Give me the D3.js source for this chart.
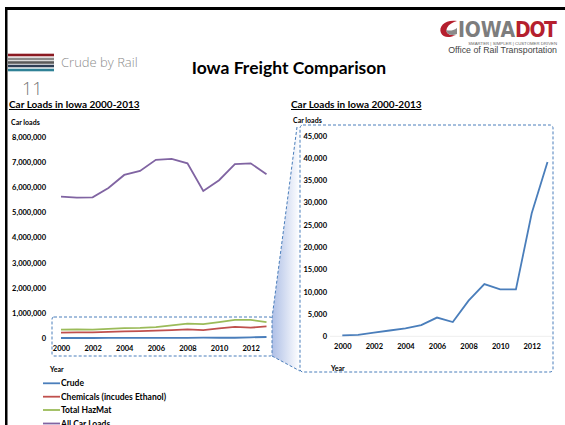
<!DOCTYPE html>
<html>
<head>
<meta charset="utf-8">
<script src="https://cdn.jsdelivr.net/npm/d3@7"></script>
<style>
  body { margin: 0; background: #fff; }
  svg { display: block; }
  .tick text { font-family: Lato, "Open Sans", sans-serif; font-weight: bold; font-size: 7.5px; fill: #000; }
  .ttl { font-family: Lato, sans-serif; font-weight: bold; font-size: 10px; text-decoration: underline; }
  .lbl { font-family: Lato, sans-serif; font-weight: bold; font-size: 7px; }
  .leg { font-family: Lato, sans-serif; font-weight: bold; font-size: 8.5px; }
</style>
</head>
<body>
<svg width="565" height="425"></svg>
<script>
var years     = [2000, 2001, 2002, 2003, 2004, 2005, 2006, 2007, 2008, 2009, 2010, 2011, 2012, 2013];
var crude     = [200, 300, 800, 1300, 1800, 2500, 4200, 3200, 8000, 11700, 10500, 10500, 27600, 39100];
var chemicals = [210000, 220000, 220000, 240000, 260000, 270000, 290000, 310000, 340000, 310000, 380000, 440000, 410000, 460000];
var hazmat    = [330000, 340000, 330000, 360000, 390000, 400000, 430000, 500000, 570000, 550000, 630000, 720000, 720000, 630000];
var allLoads  = [5630000, 5590000, 5600000, 5970000, 6490000, 6650000, 7090000, 7130000, 6950000, 5850000, 6280000, 6920000, 6950000, 6520000];
var xTicks     = [2000, 2002, 2004, 2006, 2008, 2010, 2012];
var leftTicks  = [0, 1000000, 2000000, 3000000, 4000000, 5000000, 6000000, 7000000, 8000000];
var rightTicks = [0, 5000, 10000, 15000, 20000, 25000, 30000, 35000, 40000, 45000];
var seriesNames = ["Crude", "Chemicals (incudes Ethanol)", "Total HazMat", "All Car Loads"];
var seriesColors = ["#4a7ebb", "#c0504d", "#9bbb59", "#8064a2"];

var svg = d3.select("svg");
var fmt = d3.format(",");

// --- slide frame
svg.append("rect").attr("x", 5).attr("y", 7).attr("width", 560).attr("height", 3).attr("fill", "#000");
svg.append("rect").attr("x", 5).attr("y", 7).attr("width", 2.5).attr("height", 418).attr("fill", "#000");

// --- stripes + section label
var stripes = [["#8b1a22", 55], ["#8a8a8a", 59], ["#5a5a5a", 62.5], ["#2e3e55", 66], ["#2f8196", 70]];
stripes.forEach(function (s) {
  svg.append("rect").attr("x", 8).attr("y", s[1] - 1.3).attr("width", 46).attr("height", 2.6).attr("fill", s[0]);
});
svg.append("text").attr("x", 61).attr("y", 66.5)
  .style("font-family", "'Open Sans', sans-serif").style("font-weight", 300)
  .style("font-size", "13px").attr("fill", "#8c8c8c").text("Crude by Rail");
svg.append("text").attr("x", 22).attr("y", 94.5)
  .style("font-family", "'Open Sans', sans-serif").style("font-weight", 300)
  .style("font-size", "18px").attr("fill", "#777").text("11");

svg.append("text").attr("x", 289).attr("y", 74).attr("text-anchor", "middle")
  .style("font-family", "Lato, sans-serif").style("font-weight", "bold")
  .style("font-size", "17.5px").text("Iowa Freight Comparison");

// --- logo
var logo = svg.append("g");
logo.append("path").attr("d", "M457,21 C446,19 438,26 441,33 C443,38 450,38 456,35 C449,36 445,33 447,28 C449,24 453,22 457,21 Z").attr("fill", "#b51f2e");
logo.append("path").attr("d", "M446,30 C447,35 452,36 457,34 L457,28 C453,31 449,31 446,30 Z").attr("fill", "#8a8a8a");
logo.append("text").attr("x", 458).attr("y", 37)
  .style("font-family", "'DejaVu Sans Condensed', 'DejaVu Sans', sans-serif").style("font-weight", "bold")
  .style("font-size", "21px").attr("fill", "#7d7d7d").attr("textLength", 57).text("IOWA");
logo.append("text").attr("x", 515).attr("y", 37)
  .style("font-family", "'DejaVu Sans Condensed', 'DejaVu Sans', sans-serif").style("font-weight", "bold")
  .style("font-size", "21px").attr("fill", "#b51f2e").attr("textLength", 42).text("DOT");
logo.append("text").attr("x", 557).attr("y", 44.5).attr("text-anchor", "end")
  .style("font-family", "'Liberation Sans', sans-serif").style("font-size", "4.3px")
  .attr("fill", "#666").text("SMARTER | SIMPLER | CUSTOMER DRIVEN");
logo.append("text").attr("x", 557).attr("y", 53).attr("text-anchor", "end")
  .style("font-family", "'Liberation Sans', sans-serif").style("font-size", "8.8px")
  .attr("fill", "#444").text("Office of Rail Transportation");

// --- zoom connector (drawn first so charts sit above it)
var defs = svg.append("defs");
var grad = defs.append("linearGradient").attr("id", "wedge").attr("x1", "0").attr("x2", "1").attr("y1", "0").attr("y2", "0");
grad.append("stop").attr("offset", "0").attr("stop-color", "#aebfe6");
grad.append("stop").attr("offset", "1").attr("stop-color", "#ffffff");
svg.append("path").attr("d", "M297,127 L272,318 L272,356 L300,371 L300,127 Z").attr("fill", "url(#wedge)");
svg.append("path").attr("d", "M297,127 L272,318 M272,356 L300,371")
  .attr("fill", "none").attr("stroke", "#4a7ebb").attr("stroke-width", 1).attr("stroke-dasharray", "3,2");

// --- left chart
var xL = d3.scaleLinear().domain([2000, 2013]).range([61, 266.5]);
var yL = d3.scaleLinear().domain([0, 8000000]).range([338, 137]);

svg.append("text").attr("class", "ttl").attr("x", 9).attr("y", 108).text("Car Loads in Iowa 2000-2013");
svg.append("text").attr("class", "lbl").attr("x", 11).attr("y", 125).text("Car loads");
svg.append("text").attr("class", "lbl").attr("x", 50).attr("y", 372).text("Year");

svg.append("g").attr("transform", "translate(49,0)")
  .call(d3.axisLeft(yL).tickValues(leftTicks).tickFormat(fmt).tickSize(0).tickPadding(3))
  .call(function (g) { g.select(".domain").remove(); });
svg.append("g").attr("transform", "translate(0,338)")
  .call(d3.axisBottom(xL).tickValues(xTicks).tickFormat(d3.format("d")).tickSize(0).tickPadding(8))
  .call(function (g) { g.select(".domain").remove(); });

var lineL = d3.line().x(function (d, i) { return xL(years[i]); }).y(function (d) { return yL(d); });
[crude, chemicals, hazmat, allLoads].forEach(function (s, k) {
  svg.append("path").datum(s).attr("d", lineL).attr("fill", "none")
    .attr("stroke", seriesColors[k]).attr("stroke-width", 1.8);
});

svg.append("rect").attr("x", 52).attr("y", 317).attr("width", 220).attr("height", 39).attr("rx", 2)
  .attr("fill", "none").attr("stroke", "#4a7ebb").attr("stroke-width", 1).attr("stroke-dasharray", "3,2");

// legend (last entry runs off the bottom edge, as in the original slide)
var legY = [383.3, 396.7, 410, 423.5];
seriesNames.forEach(function (n, k) {
  svg.append("line").attr("x1", 43).attr("x2", 60).attr("y1", legY[k]).attr("y2", legY[k])
    .attr("stroke", seriesColors[k]).attr("stroke-width", 1.8);
  svg.append("text").attr("class", "leg").attr("x", 61).attr("y", legY[k] + 3).text(n);
});

// --- right chart
var xR = d3.scaleLinear().domain([2000, 2013]).range([342.3, 547.5]);
var yR = d3.scaleLinear().domain([0, 45000]).range([336.3, 135.6]);

svg.append("text").attr("class", "ttl").attr("x", 291).attr("y", 108).text("Car Loads in Iowa 2000-2013");
svg.append("text").attr("class", "lbl").attr("x", 293).attr("y", 123).text("Car loads");
svg.append("text").attr("class", "lbl").attr("x", 331).attr("y", 371).text("Year");

svg.append("line").attr("x1", 330).attr("x2", 552).attr("y1", yR(0)).attr("y2", yR(0))
  .attr("stroke", "#eeeeee").attr("stroke-width", 1);
svg.append("g").attr("transform", "translate(330,0)")
  .call(d3.axisLeft(yR).tickValues(rightTicks).tickFormat(fmt).tickSize(0).tickPadding(3))
  .call(function (g) { g.select(".domain").remove(); });
svg.append("g").attr("transform", "translate(0," + yR(0) + ")")
  .call(d3.axisBottom(xR).tickValues(xTicks).tickFormat(d3.format("d")).tickSize(0).tickPadding(7))
  .call(function (g) { g.select(".domain").remove(); });

var lineR = d3.line().x(function (d, i) { return xR(years[i]); }).y(function (d) { return yR(d); });
svg.append("path").datum(crude).attr("d", lineR).attr("fill", "none")
  .attr("stroke", seriesColors[0]).attr("stroke-width", 1.8);

svg.append("rect").attr("x", 300).attr("y", 125).attr("width", 253).attr("height", 247).attr("rx", 3)
  .attr("fill", "none").attr("stroke", "#4a7ebb").attr("stroke-width", 1).attr("stroke-dasharray", "3,2");
</script>
</body>
</html>
